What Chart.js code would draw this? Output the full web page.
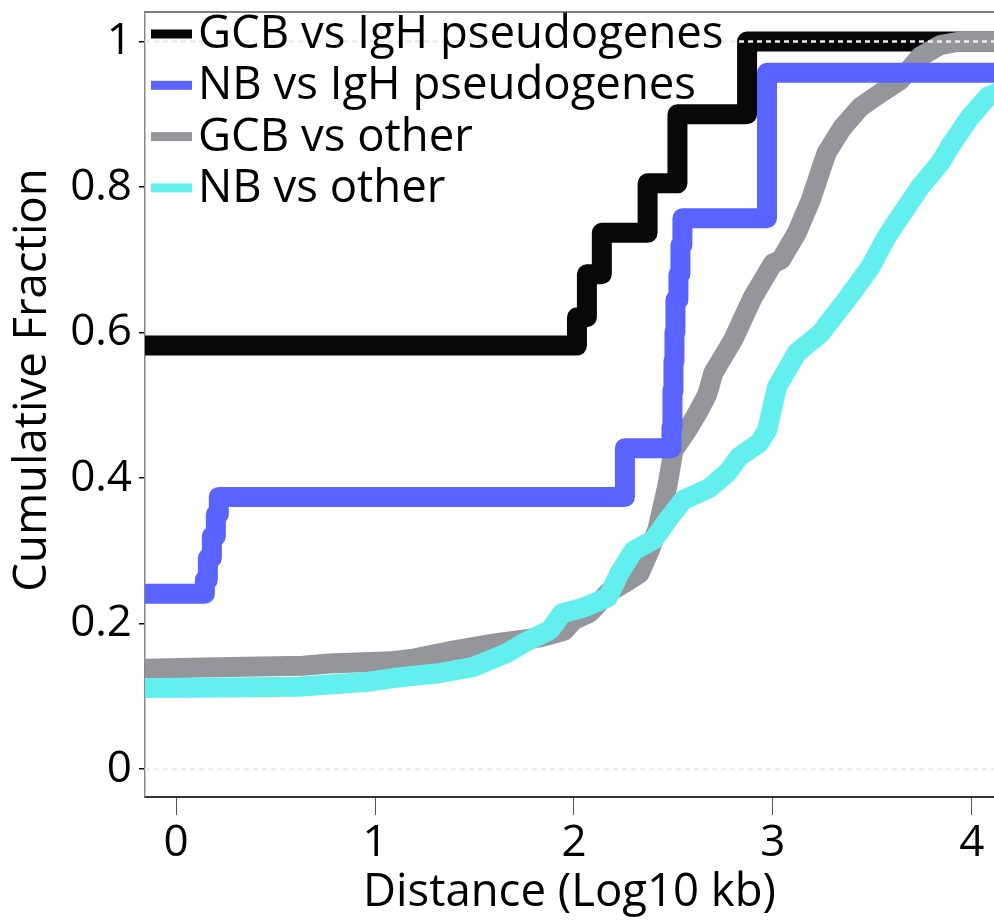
<!DOCTYPE html>
<html><head><meta charset="utf-8">
<script src="https://cdn.jsdelivr.net/npm/chart.js@4/dist/chart.umd.min.js"></script>
<style>html,body{margin:0;padding:0;background:#fff;overflow:hidden}#wrap{width:994px;height:922px}</style>
</head><body><div id="wrap"><canvas id="c" width="994" height="922"></canvas></div>
<script>
// ---- data ----
const seriesLabels = ["GCB vs IgH pseudogenes", "NB vs IgH pseudogenes", "GCB vs other", "NB vs other"];
const seriesColors = ["#080808", "#5a62ff", "#95969b", "#62efee"];

const gcbIgH_x = [-0.3, 2.015, 2.065, 2.14, 2.37, 2.52, 2.87, 4.3];
const gcbIgH_y = [0.582, 0.621, 0.680, 0.737, 0.805, 0.900, 1.0, 1.0];

const nbIgH_x = [-0.3, 0.145, 0.16, 0.18, 0.20, 0.215, 2.256, 2.49, 2.495, 2.50, 2.505, 2.51, 2.525, 2.535, 2.545, 2.97, 4.3];
const nbIgH_y = [0.241, 0.26, 0.29, 0.32, 0.35, 0.374, 0.441, 0.47, 0.52, 0.56, 0.60, 0.645, 0.68, 0.72, 0.757, 0.957, 0.957];

const gcbOther_x = [-0.3, 0.2, 0.64, 0.77, 1.08, 1.2, 1.38, 1.5, 1.61, 1.83, 1.95, 2.0, 2.08, 2.17, 2.25, 2.33, 2.38, 2.42, 2.47, 2.50, 2.57, 2.62, 2.67, 2.70, 2.80, 2.90, 3.0, 3.04, 3.12, 3.19, 3.24, 3.27, 3.35, 3.44, 3.54, 3.64, 3.74, 3.84, 3.94, 4.3];
const gcbOther_y = [0.137, 0.14, 0.142, 0.145, 0.148, 0.152, 0.162, 0.168, 0.173, 0.181, 0.19, 0.205, 0.215, 0.242, 0.255, 0.269, 0.30, 0.33, 0.39, 0.438, 0.466, 0.489, 0.515, 0.544, 0.59, 0.649, 0.695, 0.70, 0.737, 0.782, 0.823, 0.847, 0.882, 0.91, 0.929, 0.947, 0.979, 0.995, 1.0, 1.0];

const nbOther_x = [-0.3, 0.25, 0.61, 0.97, 1.09, 1.33, 1.49, 1.66, 1.76, 1.88, 1.94, 2.05, 2.17, 2.23, 2.30, 2.40, 2.47, 2.55, 2.68, 2.77, 2.83, 2.93, 2.97, 3.02, 3.12, 3.24, 3.37, 3.49, 3.57, 3.65, 3.74, 3.84, 3.90, 3.99, 4.08, 4.3];
const nbOther_y = [0.111, 0.112, 0.113, 0.12, 0.125, 0.132, 0.14, 0.159, 0.175, 0.191, 0.214, 0.222, 0.236, 0.27, 0.30, 0.315, 0.342, 0.37, 0.386, 0.407, 0.429, 0.448, 0.465, 0.525, 0.572, 0.599, 0.645, 0.69, 0.731, 0.764, 0.80, 0.833, 0.86, 0.896, 0.924, 0.95];

const refLines = [0, 1];
const xTicks = [0, 1, 2, 3, 4];
const yTicks = [0, 0.2, 0.4, 0.6, 0.8, 1];
const xRange = [-0.156, 4.111];
const yRange = [-0.0385, 1.0405];
const xTitle = "Distance (Log10 kb)";
const yTitle = "Cumulative Fraction";

// ---- build ----
const FONT = "'Open Sans'";
const pts = (xs, ys) => xs.map((x, i) => ({x: x, y: ys[i]}));
const xsAll = [gcbIgH_x, nbIgH_x, gcbOther_x, nbOther_x];
const ysAll = [gcbIgH_y, nbIgH_y, gcbOther_y, nbOther_y];
const steppedAll = ['before', 'before', false, false];
const drawOrder = [4, 1, 3, 2]; // higher = drawn first (below)

const datasets = seriesLabels.map((lab, i) => ({
  label: lab,
  data: pts(xsAll[i], ysAll[i]),
  borderColor: seriesColors[i],
  backgroundColor: seriesColors[i],
  borderWidth: 20,
  stepped: steppedAll[i],
  tension: 0,
  pointRadius: 0,
  fill: false,
  borderJoinStyle: 'round',
  borderCapStyle: 'butt',
  order: drawOrder[i]
}));
refLines.forEach(v => datasets.push({
  label: '_ref' + v,
  data: [{x: xRange[0], y: v}, {x: xRange[1], y: v}],
  borderColor: '#ececec',
  borderWidth: 2.5,
  borderDash: [5, 4],
  pointRadius: 0,
  fill: false,
  order: 0
}));

const frameAndLegend = {
  id: 'frameAndLegend',
  afterDraw(chart) {
    const ctx = chart.ctx, a = chart.chartArea;
    ctx.save();
    ctx.strokeStyle = '#555';
    ctx.lineWidth = 1.5;
    ctx.beginPath();
    ctx.moveTo(a.left, a.top);
    ctx.lineTo(a.right, a.top);
    ctx.stroke();
    // legend
    ctx.font = '45.5px ' + FONT;
    ctx.textBaseline = 'alphabetic';
    ctx.textAlign = 'left';
    seriesLabels.forEach((lab, i) => {
      const cy = 34 + i * 51.3;
      ctx.fillStyle = seriesColors[i];
      ctx.fillRect(151, cy - 4.5, 41, 9);
      ctx.fillStyle = '#000';
      ctx.fillText(lab, 198, cy + 14);
    });
    // y title
    ctx.translate(33, 380);
    ctx.rotate(-Math.PI / 2);
    ctx.textAlign = 'center';
    ctx.textBaseline = 'middle';
    ctx.fillStyle = '#000';
    ctx.font = '45.5px ' + FONT;
    ctx.fillText(yTitle, 0, 0);
    ctx.restore();
  }
};

new Chart(document.getElementById('c'), {
  type: 'line',
  data: {datasets: datasets},
  plugins: [frameAndLegend],
  options: {
    responsive: false,
    devicePixelRatio: 1,
    animation: false,
    layout: {padding: {top: 12, right: 0, left: 0, bottom: 0}},
    plugins: {legend: {display: false}, tooltip: {enabled: false}},
    scales: {
      x: {
        type: 'linear',
        min: xRange[0], max: xRange[1],
        afterBuildTicks: s => { s.ticks = xTicks.map(v => ({value: v})); },
        afterFit: s => { s.height = 125; s.paddingLeft = 0; s.paddingRight = 0; },
        grid: {drawOnChartArea: false, drawTicks: true, tickLength: 18, color: '#555', lineWidth: 1},
        border: {display: true, color: '#333', width: 2},
        ticks: {font: {family: FONT, size: 44}, color: '#000', padding: 2, maxRotation: 0,
                callback: v => String(v)},
        title: {display: true, text: xTitle, font: {family: FONT, size: 45.5, lineHeight: 1.0}, color: '#000', padding: {top: 0, bottom: 6}}
      },
      y: {
        type: 'linear',
        min: yRange[0], max: yRange[1],
        afterBuildTicks: s => { s.ticks = yTicks.map(v => ({value: v})); },
        afterFit: s => { s.width = 145; s.paddingTop = 0; s.paddingBottom = 0; },
        grid: {drawOnChartArea: false, drawTicks: true, tickLength: 6, color: '#000', lineWidth: 1.5},
        border: {display: true, color: '#888', width: 1.5},
        ticks: {font: {family: FONT, size: 44}, color: '#000', padding: 7,
                callback: v => String(v)},
        title: {display: false}
      }
    }
  }
});
</script>
</body></html>
